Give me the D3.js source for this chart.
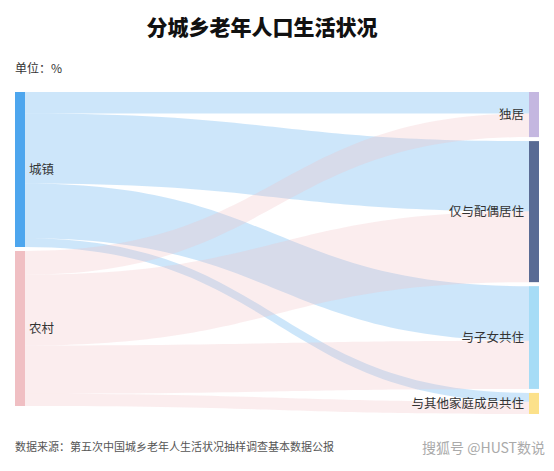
<!DOCTYPE html>
<html>
<head>
<meta charset="utf-8">
<script src="https://cdn.jsdelivr.net/npm/d3@7"></script>
<style>
  body { margin: 0; background: #fff; }
  svg { display: block; font-family: "Noto Sans CJK SC", sans-serif; }
</style>
</head>
<body>
<div id="chart"></div>
<script>
// shares (%) of each living arrangement
const regions = ["城镇", "农村"];
const arrangements = ["独居", "仅与配偶居住", "与子女共住", "与其他家庭成员共住"];
const urbanShares = [13.8, 45.3, 35.2, 5.7];
const ruralShares = [15.3, 45.7, 31.1, 7.9];

const regionColors = ["#4da6ee", "#f0bfc3"];
const arrangeColors = ["#c4b7e0", "#596b94", "#a6dcf6", "#fce18a"];

const width = 554, height = 471;
const plotTop = 92, plotBottom = 414, gap = 4, nodeW = 10;

const svg = d3.select("#chart")
  .append("svg")
  .attr("width", width)
  .attr("height", height);

// links table built from the arrays
const shares = [urbanShares, ruralShares];
const links = [];
regions.forEach((r, i) => {
  arrangements.forEach((a, j) => {
    links.push({ source: i, target: j, value: shares[i][j] });
  });
});

const total = d3.sum(links, d => d.value);
const ky = d3.scaleLinear()
  .domain([0, total])
  .range([0, (plotBottom - plotTop) - (arrangements.length - 1) * gap]);
const x = d3.scaleLinear().domain([0, 1]).range([15, 529]);

// left nodes
let yPos = plotTop;
const leftNodes = regions.map((name, i) => {
  const v = d3.sum(shares[i]);
  const n = { name, value: v, x0: x(0), x1: x(0) + nodeW, y0: yPos, y1: yPos + ky(v), color: regionColors[i] };
  yPos = n.y1 + gap;
  return n;
});

// right nodes
yPos = plotTop;
const rightNodes = arrangements.map((name, j) => {
  const v = d3.sum(shares, s => s[j]);
  const n = { name, value: v, x0: x(1), x1: x(1) + nodeW, y0: yPos, y1: yPos + ky(v), color: arrangeColors[j] };
  yPos = n.y1 + gap;
  return n;
});

// stack links on each end
const srcOff = leftNodes.map(n => n.y0);
const tgtOff = rightNodes.map(n => n.y0);
links.forEach(l => {
  const w = ky(l.value);
  l.sy0 = srcOff[l.source]; l.sy1 = l.sy0 + w; srcOff[l.source] += w;
});
arrangements.forEach((a, j) => {
  links.filter(l => l.target === j).forEach(l => {
    const w = ky(l.value);
    l.ty0 = tgtOff[j]; l.ty1 = l.ty0 + w; tgtOff[j] += w;
  });
});

function linkArea(l) {
  const x0 = x(0) + nodeW, x1 = x(1);
  const xm = (x0 + x1) / 2;
  return `M${x0},${l.sy0}C${xm},${l.sy0} ${xm},${l.ty0} ${x1},${l.ty0}` +
    `L${x1},${l.ty1}C${xm},${l.ty1} ${xm},${l.sy1} ${x0},${l.sy1}Z`;
}

svg.append("g")
  .selectAll("path")
  .data(links)
  .join("path")
  .attr("d", linkArea)
  .attr("fill", d => regionColors[d.source])
  .attr("fill-opacity", 0.28);

svg.append("g")
  .selectAll("rect")
  .data(leftNodes.concat(rightNodes))
  .join("rect")
  .attr("x", d => d.x0)
  .attr("y", d => d.y0)
  .attr("width", nodeW)
  .attr("height", d => d.y1 - d.y0)
  .attr("fill", d => d.color);

svg.append("g")
  .selectAll("text")
  .data(leftNodes)
  .join("text")
  .attr("x", d => d.x1 + 4)
  .attr("y", d => (d.y0 + d.y1) / 2)
  .attr("dy", "0.35em")
  .attr("font-size", 12.5)
  .attr("fill", "#333")
  .text(d => d.name);

svg.append("g")
  .selectAll("text")
  .data(rightNodes)
  .join("text")
  .attr("x", d => d.x0 - 5)
  .attr("y", d => (d.y0 + d.y1) / 2)
  .attr("dy", "0.35em")
  .attr("text-anchor", "end")
  .attr("font-size", 12.5)
  .attr("fill", "#333")
  .text(d => d.name);

// title and notes
svg.append("text")
  .attr("x", 262)
  .attr("y", 35)
  .attr("text-anchor", "middle")
  .attr("font-size", 21)
  .attr("font-weight", 900)
  .attr("fill", "#111")
  .text("分城乡老年人口生活状况");

svg.append("text")
  .attr("x", 15)
  .attr("y", 73)
  .attr("font-size", 12)
  .attr("fill", "#333")
  .text("单位：%");

svg.append("text")
  .attr("x", 15)
  .attr("y", 451)
  .attr("font-size", 11)
  .attr("fill", "#555")
  .text("数据来源：第五次中国城乡老年人生活状况抽样调查基本数据公报");

svg.append("text")
  .attr("x", 545)
  .attr("y", 453)
  .attr("text-anchor", "end")
  .attr("font-size", 14)
  .attr("fill", "#aaa")
  .text("搜狐号 @HUST数说");
</script>
</body>
</html>
